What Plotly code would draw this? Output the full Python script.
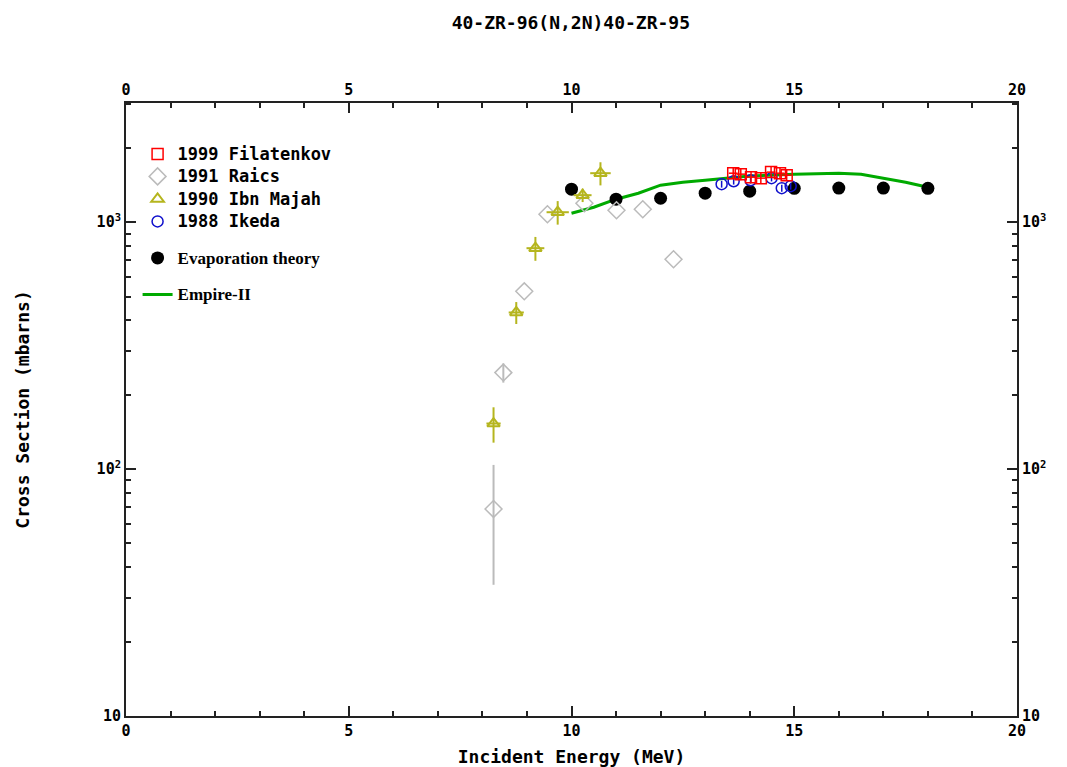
import plotly.graph_objects as go

# ---------------- data ----------------
title_text = "40-ZR-96(N,2N)40-ZR-95"
x_title = "Incident Energy (MeV)"
y_title = "Cross Section (mbarns)"

x_ticks = [0, 5, 10, 15, 20]
y_tickvals = [10, 100, 1000]
y_ticktext = ["10", "10<sup>2</sup>", "10<sup>3</sup>"]

# 1999 Filatenkov
fil_E = [13.63, 13.80, 14.03, 14.25, 14.48, 14.68, 14.83]
fil_xs = [1580, 1566, 1523, 1509, 1596, 1580, 1551]
fil_dy = [85, 85, 80, 80, 85, 85, 80]
fil_dE = [0.10, 0.10, 0.10, 0.10, 0.10, 0.10, 0.10]

# 1991 Raics
rai_E = [8.25, 8.47, 8.94, 9.46, 10.29, 11.01, 11.60, 12.29]
rai_xs = [69, 246, 525, 1077, 1194, 1118, 1129, 708]
rai_dy = [35, 22, 0, 0, 0, 0, 0, 0]

# 1990 Ibn Majah
ibn_E = [8.25, 8.76, 9.19, 9.69, 10.25, 10.65]
ibn_xs = [153, 431, 785, 1098, 1287, 1580]
ibn_dy = [25, 44, 87, 120, 80, 170]
ibn_dE = [0.16, 0.17, 0.20, 0.25, 0.20, 0.23]

# 1988 Ikeda
ike_E = [13.37, 13.64, 14.02, 14.49, 14.72, 14.92]
ike_xs = [1426, 1466, 1480, 1508, 1374, 1400]
ike_dy = [45, 45, 45, 45, 45, 45]

# Evaporation theory
eva_E = [10, 11, 12, 13, 14, 15, 16, 17, 18]
eva_xs = [1361, 1240, 1251, 1311, 1336, 1372, 1375, 1375, 1372]

# Empire-II
emp_E = [10.0, 10.5, 11.0, 11.5, 12.0, 12.5, 13.0, 14.0, 15.0, 16.0, 16.5, 17.0, 17.5, 18.0]
emp_xs = [1088, 1150, 1240, 1311, 1413, 1452, 1480, 1538, 1566, 1580, 1566, 1510, 1452, 1386]

# ---------------- styling ----------------
MONO = "DejaVu Sans Mono"
SERIF = "Liberation Serif"
AX = "#222222"


def mono(s):
    return f'<span style="font-size:17px">{s}</span>'


def serif(s):
    return f'<span style="font-family:{SERIF};font-size:17px">{s}</span>'


fig = go.Figure()

fig.add_trace(go.Scatter(
    x=emp_E, y=emp_xs, mode="lines", name=serif("Empire-II"),
    line=dict(color="#00AA00", width=3), legendgroup="c", legendrank=6))

fig.add_trace(go.Scatter(
    x=eva_E, y=eva_xs, mode="markers", name=serif("Evaporation theory"),
    marker=dict(symbol="circle", size=13, color="black"), legendgroup="b", legendrank=5))

fig.add_trace(go.Scatter(
    x=rai_E, y=rai_xs, mode="markers", name=mono("1991 Raics"),
    marker=dict(symbol="diamond-open", size=13, color="#BBBBBB", line=dict(width=1.5)),
    error_y=dict(type="data", array=rai_dy, color="#BBBBBB", thickness=2, width=0),
    legendgroup="a", legendrank=2))

fig.add_trace(go.Scatter(
    x=ibn_E, y=ibn_xs, mode="markers", name=mono("1990 Ibn Majah"),
    marker=dict(symbol="triangle-up-open", size=11, color="#B5B51E", line=dict(width=2)),
    error_y=dict(type="data", array=ibn_dy, color="#B5B51E", thickness=2, width=0),
    error_x=dict(type="data", array=ibn_dE, color="#B5B51E", thickness=2, width=0),
    legendgroup="a", legendrank=3))

fig.add_trace(go.Scatter(
    x=ike_E, y=ike_xs, mode="markers", name=mono("1988 Ikeda"),
    marker=dict(symbol="circle-open", size=11, color="#1010CC", line=dict(width=1.5)),
    error_y=dict(type="data", array=ike_dy, color="#1010CC", thickness=1.5, width=0),
    legendgroup="a", legendrank=4))

fig.add_trace(go.Scatter(
    x=fil_E, y=fil_xs, mode="markers", name=mono("1999 Filatenkov"),
    marker=dict(symbol="square-open", size=11, color="#FF0000", line=dict(width=1.5)),
    error_y=dict(type="data", array=fil_dy, color="#FF0000", thickness=1.5, width=0),
    error_x=dict(type="data", array=fil_dE, color="#FF0000", thickness=1.5, width=0),
    legendgroup="a", legendrank=1))

# invisible trace for top/right axes
fig.add_trace(go.Scatter(x=[None], y=[None], xaxis="x2", yaxis="y2",
                         showlegend=False, hoverinfo="skip"))

tickfont = dict(family=MONO, size=15, color="black", weight="bold")
yrange = [1, 3.483]

common_x = dict(range=[0, 20], tickvals=x_ticks, ticks="inside", ticklen=10,
                tickwidth=2, tickcolor=AX, showline=True, linecolor=AX, linewidth=2,
                showgrid=False, zeroline=False, tickfont=tickfont, automargin=False,
                minor=dict(ticks="inside", ticklen=5, tickwidth=2, tickcolor=AX,
                           dtick=1, showgrid=False))
common_y = dict(type="log", range=yrange, tickvals=y_tickvals, ticktext=y_ticktext,
                ticks="inside", ticklen=10, tickwidth=2, tickcolor=AX,
                showline=True, linecolor=AX, linewidth=2, showgrid=False,
                zeroline=False, tickfont=tickfont, automargin=False,
                minor=dict(ticks="inside", ticklen=5, tickwidth=2, tickcolor=AX,
                           tickvals=[v * m for v in (10, 100, 1000) for m in range(2, 10)],
                           showgrid=False))

fig.update_layout(
    width=1067, height=767,
    margin=dict(l=126, r=50, t=103, b=51),
    paper_bgcolor="white", plot_bgcolor="white",
    title=dict(text=title_text, x=0.535, xanchor="center", y=0.971, yref="container",
               yanchor="middle", font=dict(family=MONO, size=18, color="black", weight="bold")),
    xaxis=dict(**common_x, title=dict(text=x_title, standoff=14,
               font=dict(family=MONO, size=18, color="black", weight="bold"))),
    yaxis=dict(**common_y, title=dict(text=y_title, standoff=62,
               font=dict(family=MONO, size=18, color="black", weight="bold"))),
    xaxis2=dict(**common_x, overlaying="x", side="top"),
    yaxis2=dict(**common_y, overlaying="y", side="right"),
    legend=dict(x=0.013, y=0.9435, xanchor="left", yanchor="top",
                bgcolor="rgba(0,0,0,0)", tracegroupgap=14,
                font=dict(family=MONO, size=15, color="black", weight="bold"),
                itemwidth=30),
    showlegend=True,
)

fig.write_html("out.html")
